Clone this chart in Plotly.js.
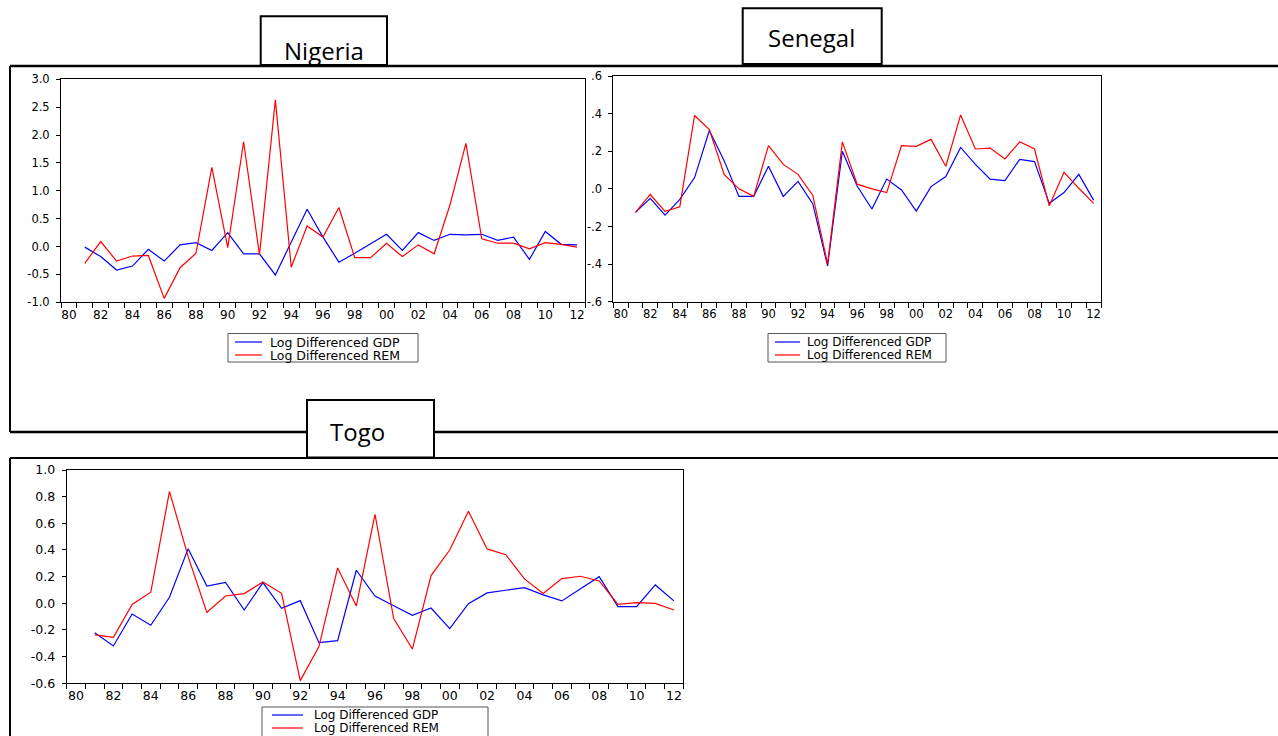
<!DOCTYPE html>
<html>
<head>
<meta charset="utf-8">
<script src="https://cdn.plot.ly/plotly-3.0.1.min.js"></script>
<style>
  html, body { margin: 0; padding: 0; background: #fff; }
  #chart { width: 1278px; height: 736px; }
</style>
</head>
<body>
<div id="chart"></div>
<script>
// ---------- data ----------
const years = [1981,1982,1983,1984,1985,1986,1987,1988,1989,1990,1991,1992,1993,1994,1995,1996,
               1997,1998,1999,2000,2001,2002,2003,2004,2005,2006,2007,2008,2009,2010,2011,2012];

const labelYears = [1980,1982,1984,1986,1988,1990,1992,1994,1996,1998,2000,2002,2004,2006,2008,2010,2012];
const labelText  = ['80','82','84','86','88','90','92','94','96','98','00','02','04','06','08','10','12'];

const nigeriaGDP = [-0.01,-0.18,-0.42,-0.35,-0.05,-0.26,0.03,0.07,-0.07,0.25,-0.13,-0.13,-0.51,0.08,0.67,0.17,
                    -0.28,-0.12,0.05,0.22,-0.07,0.25,0.11,0.22,0.21,0.22,0.11,0.17,-0.23,0.27,0.04,0.03];
const nigeriaREM = [-0.30,0.09,-0.26,-0.17,-0.16,-0.93,-0.38,-0.12,1.42,-0.02,1.88,-0.15,2.63,-0.37,0.37,0.17,
                    0.70,-0.20,-0.20,0.06,-0.18,0.03,-0.13,0.75,1.85,0.14,0.06,0.06,-0.04,0.07,0.04,-0.01];

const senegalGDP = [-0.125,-0.05,-0.14,-0.056,0.06,0.31,0.15,-0.04,-0.04,0.12,-0.04,0.04,-0.08,-0.41,0.20,0.015,
                    -0.107,0.052,-0.006,-0.118,0.012,0.065,0.22,0.13,0.052,0.044,0.157,0.145,-0.077,-0.02,0.077,-0.06];
const senegalREM = [-0.125,-0.03,-0.12,-0.095,0.39,0.315,0.077,0.0,-0.04,0.23,0.13,0.077,-0.035,-0.40,0.25,0.025,
                    0.0,-0.02,0.23,0.226,0.263,0.12,0.393,0.212,0.217,0.159,0.25,0.212,-0.09,0.088,0.003,-0.077];

const togoGDP = [-0.22,-0.32,-0.08,-0.165,0.045,0.41,0.13,0.157,-0.05,0.155,-0.038,0.02,-0.295,-0.28,0.248,0.055,
                 -0.018,-0.09,-0.035,-0.19,-0.003,0.078,0.098,0.118,0.063,0.018,0.11,0.20,-0.025,-0.025,0.138,0.018];
const togoREM = [-0.237,-0.255,-0.008,0.083,0.84,0.35,-0.068,0.055,0.073,0.16,0.075,-0.58,-0.325,0.265,-0.02,0.668,
                 -0.115,-0.343,0.208,0.40,0.69,0.408,0.365,0.183,0.073,0.185,0.203,0.168,-0.008,0.005,0.0,-0.05];

const nigeriaYVals = [-1,-0.5,0,0.5,1,1.5,2,2.5,3];
const nigeriaYText = ['-1.0','-0.5','0.0','0.5','1.0','1.5','2.0','2.5','3.0'];
const senegalYVals = [-0.6,-0.4,-0.2,0,0.2,0.4,0.6];
const senegalYText = ['-.6','-.4','-.2','.0','.2','.4','.6'];
const togoYVals = [-0.6,-0.4,-0.2,0,0.2,0.4,0.6,0.8,1.0];
const togoYText = ['-0.6','-0.4','-0.2','0.0','0.2','0.4','0.6','0.8','1.0'];

const seriesNames = ['Log Differenced GDP','Log Differenced REM'];
const countries = ['Nigeria','Senegal','Togo'];

// ---------- layout helpers ----------
const W = 1278, H = 736;
const PX = p => p / W;
const PY = p => 1 - p / H;
const BLUE = '#0000ff', RED = '#ff0000';
const bounds = [labelYears[0] - 0.5];
for (let i = 0; i <= labelYears[labelYears.length - 1] - labelYears[0]; i++) bounds.push(labelYears[0] + i + 0.5);

function xAxis(x0, x1, anchor, fontSize) {
  return {
    domain: [PX(x0), PX(x1)], anchor: anchor,
    range: [labelYears[0] - 0.5, labelYears[labelYears.length - 1] + 0.5],
    tickmode: 'array', tickvals: labelYears, ticktext: labelText,
    ticks: '', showline: true, mirror: true, linecolor: '#000', linewidth: 1,
    showgrid: false, zeroline: false, fixedrange: true,
    tickfont: {family: 'DejaVu Sans', size: fontSize, color: '#000'},
    ticklabelstandoff: 1,
    minor: {tickmode: 'array', tickvals: bounds, ticks: 'outside', ticklen: 5, tickcolor: '#000', tickwidth: 1, showgrid: false}
  };
}
function yAxis(y0, y1, anchor, vals, text, fontSize) {
  return {
    domain: [PY(y1), PY(y0)], anchor: anchor,
    range: [vals[0], vals[vals.length - 1]],
    tickmode: 'array', tickvals: vals, ticktext: text,
    ticks: 'outside', ticklen: 4, tickcolor: '#000', tickwidth: 1,
    showline: true, mirror: true, linecolor: '#000', linewidth: 1,
    showgrid: false, zeroline: false, fixedrange: true,
    tickfont: {family: 'DejaVu Sans', size: fontSize, color: '#000'},
    ticklabelstandoff: 4
  };
}

function tr(y, color, name, xa, ya) {
  return {x: years, y: y, type: 'scatter', mode: 'lines', name: name,
          line: {color: color, width: 1.2}, xaxis: xa, yaxis: ya, showlegend: false, hoverinfo: 'skip'};
}

const data = [
  tr(nigeriaGDP, BLUE, seriesNames[0], 'x', 'y'),
  tr(nigeriaREM, RED, seriesNames[1], 'x', 'y'),
  tr(senegalGDP, BLUE, seriesNames[0], 'x2', 'y2'),
  tr(senegalREM, RED, seriesNames[1], 'x2', 'y2'),
  tr(togoGDP, BLUE, seriesNames[0], 'x3', 'y3'),
  tr(togoREM, RED, seriesNames[1], 'x3', 'y3')
];

const shapes = [];
const annotations = [];
function line(x0, y0, x1, y1, w, c) {
  shapes.push({type: 'line', xref: 'paper', yref: 'paper', x0: PX(x0), y0: PY(y0), x1: PX(x1), y1: PY(y1),
               line: {color: c || '#000', width: w}});
}
function rect(x0, y0, x1, y1, w, c, fill) {
  shapes.push({type: 'rect', xref: 'paper', yref: 'paper', x0: PX(x0), y0: PY(y0), x1: PX(x1), y1: PY(y1),
               line: {color: c || '#000', width: w}, fillcolor: fill || 'rgba(0,0,0,0)'});
}
function text(t, x, y, size, family, anchor) {
  annotations.push({text: t, xref: 'paper', yref: 'paper', x: PX(x), y: PY(y), showarrow: false,
                    xanchor: anchor || 'left', yanchor: 'middle',
                    font: {family: family, size: size, color: '#000'}});
}

// outer frames
line(10, 66, W, 66, 2.5);
line(10, 66, 10, 432, 2);
line(10, 432, W, 432, 2.5);
line(10, 458, W, 458, 2);
line(10, 458, 10, H, 2);

// title boxes
rect(260.7, 16.3, 387, 65, 2, '#000', '#fff');
rect(742.7, 8.3, 881.7, 64, 2, '#000', '#fff');
rect(307, 400, 434, 457.5, 2, '#000', '#fff');
text(countries[0], 324, 50, 24, 'Open Sans', 'center');
text(countries[1], 812, 37.5, 24, 'Open Sans', 'center');
text(countries[2], 357, 431, 24, 'Open Sans', 'center');

// legends
function legend(bx0, by0, bx1, by1, rows, lx0, lx1, tx, size) {
  rect(bx0, by0, bx1, by1, 1, '#555', '#fff');
  line(lx0, rows[0], lx1, rows[0], 1.2, BLUE);
  line(lx0, rows[1], lx1, rows[1], 1.2, RED);
  text(seriesNames[0], tx, rows[0], size, 'DejaVu Sans', 'left');
  text(seriesNames[1], tx, rows[1], size, 'DejaVu Sans', 'left');
}
legend(228, 333.5, 418, 362, [342, 355], 235, 262, 268, 12.5);
legend(768, 333.5, 946, 362, [342, 355], 775, 800, 805, 12);
legend(262, 707, 488, 745, [715, 728], 272, 303, 312, 12);

const layout = {
  width: W, height: H,
  margin: {l: 0, r: 0, t: 0, b: 0, pad: 0},
  paper_bgcolor: '#fff', plot_bgcolor: '#fff',
  showlegend: false,
  xaxis: xAxis(61, 585, 'y', 12),
  yaxis: yAxis(79.3, 302.3, 'x', nigeriaYVals, nigeriaYText, 11.5),
  xaxis2: xAxis(613.3, 1101, 'y2', 11.5),
  yaxis2: yAxis(76, 301.7, 'x2', senegalYVals, senegalYText, 11.5),
  xaxis3: xAxis(66.7, 683.3, 'y3', 12.5),
  yaxis3: yAxis(470, 683.3, 'x3', togoYVals, togoYText, 12.5),
  shapes: shapes,
  annotations: annotations
};

Plotly.newPlot('chart', data, layout, {displayModeBar: false, staticPlot: true});
</script>
</body>
</html>
